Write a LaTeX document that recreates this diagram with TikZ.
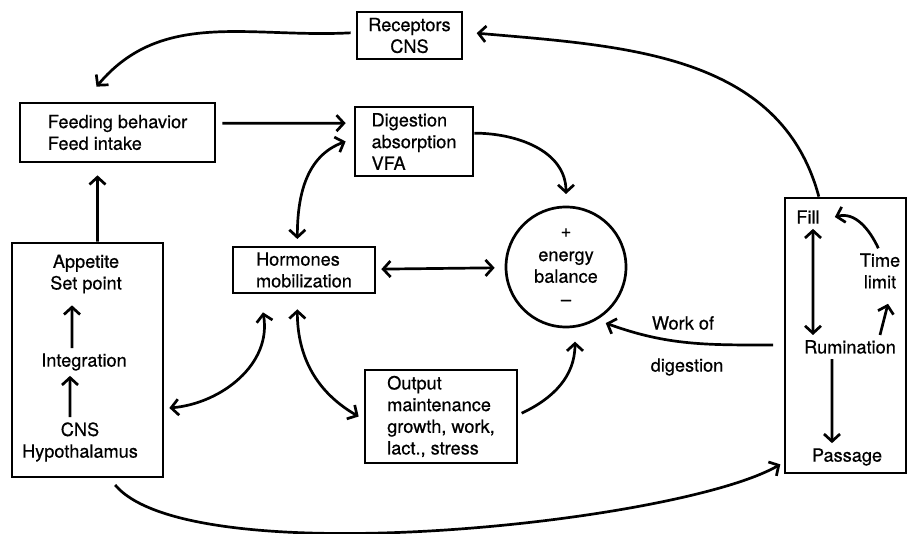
\documentclass[tikz,border=0pt]{standalone}
\usepackage{fontspec}
\setmainfont[FakeBold=0.6]{TeX Gyre Heros}
\usetikzlibrary{arrows.meta}

\begin{document}
\begin{tikzpicture}[x=0.3cm,y=-0.3cm,
        font=\fontsize{15.5}{18.5}\selectfont,
        line width=2.3pt,
        >={Straight Barb[length=2.2mm,width=4.8mm]},
        box/.style={draw,rectangle,inner sep=0pt},
        txt/.style={inner sep=0.333em,align=center}]
    \useasboundingbox (0,0) rectangle (91.1,53.4);

    % Boxes
    \node[box,minimum width=3.15cm,minimum height=1.41cm,align=center] (rec) at (40.95,3.55) {Receptors\\CNS};
    \node[box,minimum width=5.85cm,minimum height=1.77cm,align=left] (feed) at (11.75,13.25) {Feeding behavior\\Feed intake};
    \node[box,minimum width=3.54cm,minimum height=2.07cm,align=left] (dig) at (41.4,14.15) {Digestion\\absorption\\VFA};
    \node[box,minimum width=4.26cm,minimum height=1.38cm,align=left] (horm) at (30.4,27.0) {Hormones\\mobilization};
    \node[box,minimum width=4.56cm,minimum height=2.79cm,align=left] (out) at (44.1,41.65) {Output\\maintenance\\growth, work,\\lact., stress};
    \node[draw,circle,minimum size=3.6cm,align=center] (eb) at (56.6,26.7) {+\\[2pt]energy\\balance\\[1pt]--};

    % CNS box
    \node[box,minimum width=4.53cm,minimum height=7.02cm] (cbox) at (8.75,36.0) {};
    \node[txt] (app) at (8.6,27.4) {Appetite\\Set point};
    \node[txt] (integ) at (8.4,36.2) {Integration};
    \node[txt] (hyp) at (8.0,44.2) {CNS\\Hypothalamus};
    \draw[->] ([xshift=-0.36cm]integ.north) -- ([xshift=-0.42cm,yshift=-0.2cm]app.south);
    \draw[->] ([xshift=-0.3cm]hyp.north) -- ([xshift=-0.42cm]integ.south);

    % Digestive tract box
    \node[box,minimum width=3.63cm,minimum height=8.25cm] (dp) at (84.55,33.55) {};
    \node[txt] (fill) at (80.8,21.7) {Fill};
    \node[txt] (tl) at (88.0,27.1) {Time\\limit};
    \node[txt] (rum) at (85.0,34.7) {Rumination};
    \node[txt] (pas) at (84.7,45.7) {Passage};
    \draw[<->] ([xshift=0.15cm]fill.south) -- ([xshift=-1.11cm]rum.north);
    \draw[->] ([xshift=0.9cm]rum.north) -- ([xshift=0.24cm,yshift=-0.3cm]tl.south);
    \draw[->] ([xshift=-0.05cm]tl.north) to[out=115,in=15] ([xshift=0.3cm]fill.east);
    \draw[->] ([xshift=-0.54cm]rum.south) -- ([xshift=-0.45cm]pas.north);

    % Work of digestion
    \node[txt] (wo) at (68.3,32.3) {Work of};
    \node[txt] (dg) at (68.7,36.7) {digestion};
    \coordinate (wstart) at (77.3,34.5);
    \draw[->] (wstart) to[out=180,in=-20] ([xshift=0.19cm,yshift=-0.14cm]eb.-57);

    % Connections
    \draw[->] ([xshift=-0.8cm]dp.north) to[out=105,in=-5] ([xshift=0.4cm,yshift=0.07cm]rec.east);
    \draw[->] ([xshift=-0.15cm,yshift=0.08cm]rec.west) to[out=183,in=50] ([xshift=-0.63cm,yshift=0.45cm]feed.north);
    \draw[->] ([xshift=0.18cm,yshift=0.28cm]feed.east) -- ([xshift=-0.24cm,yshift=0.55cm]dig.west);
    \draw[<->] ([xshift=-0.2cm,yshift=0.2cm]horm.north) to[out=90,in=200] ([xshift=-0.24cm]dig.west);
    \draw[->] ([yshift=0.25cm]dig.east) to[out=0,in=90] ([yshift=0.35cm]eb.north);
    \draw[<->,shorten <=0.15cm,shorten >=0.3cm] (horm) -- (eb);
    \draw[->] ([xshift=0.3cm]cbox.north) -- ([xshift=-0.6cm,yshift=-0.36cm]feed.south);
    \draw[<->] ([xshift=0.15cm,yshift=-1.44cm]cbox.east) to[out=5,in=-80] ([xshift=-1.23cm,yshift=-0.54cm]horm.south);
    \draw[<->] ([xshift=-0.2cm,yshift=-0.45cm]horm.south) to[out=-90,in=150] ([xshift=-0.15cm]out.west);
    \draw[->] ([xshift=0.1cm,yshift=0.1cm]out.east) to[out=25,in=-90] ([xshift=0.27cm,yshift=-0.4cm]eb.south);
    \draw[->] ([xshift=0.83cm,yshift=-0.2cm]cbox.south) to[out=-50,in=210,looseness=0.45] ([xshift=-0.1cm,yshift=0.3cm]dp.south west);
\end{tikzpicture}
\end{document}
